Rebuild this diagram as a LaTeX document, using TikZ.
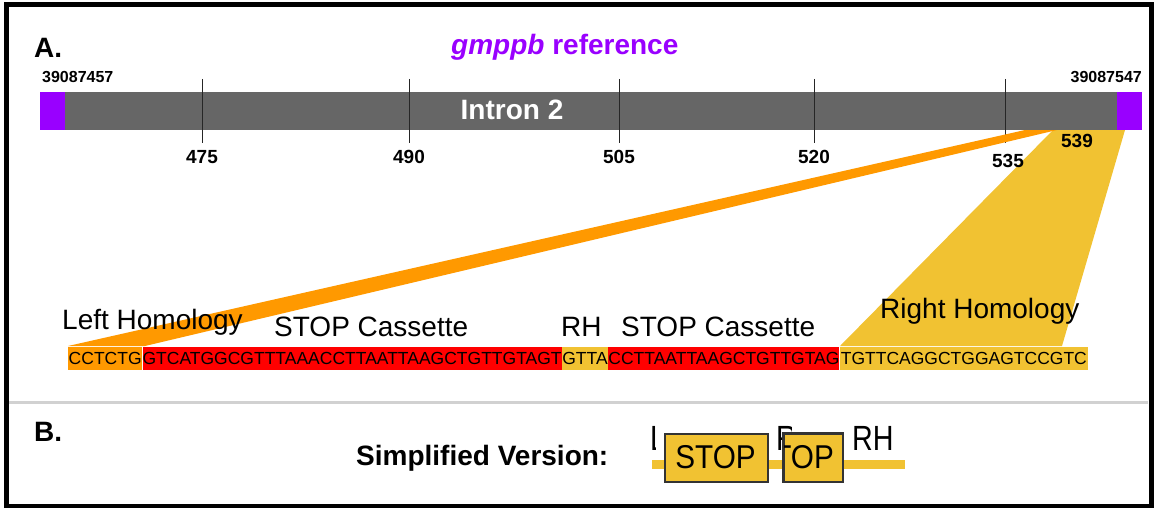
\documentclass[tikz,border=0pt]{standalone}
\usepackage{fontspec}
\setmainfont{Liberation Sans}
\definecolor{gpurple}{HTML}{9900FF}
\definecolor{ggray}{HTML}{666666}
\definecolor{gorange}{HTML}{FF9900}
\definecolor{gyellow}{HTML}{F1C232}
\definecolor{gred}{HTML}{FF0000}
\definecolor{gframe}{HTML}{333333}
\newcommand{\fsz}[1]{\fontsize{#1}{#1}\selectfont}
\newcommand{\narrowtxt}[1]{\scalebox{0.82}[1]{\fsz{35}#1}}
\tikzset{
  lbl/.style={inner sep=0pt, anchor=base west},
  seg/.style={inner xsep=0pt, inner ysep=0pt, text height=13pt, text depth=0pt,
              minimum height=23pt, anchor=west, font=\fsz{17.5}},
  tick/.style={line width=0.9pt, black!85},
  ticklbl/.style={inner sep=0pt, anchor=base, font=\fsz{19}\bfseries},
  simbox/.style={fill=gyellow, draw=gframe, line width=1.5pt}
}
\begin{document}
\begin{tikzpicture}[x=1pt,y=-1pt]
\useasboundingbox (0,0) rectangle (1158,508);
% frame and separator
\draw[line width=5pt] (6.5,4.5) rectangle (1151,506);
\draw[line width=3pt, black!18] (9,402) -- (1148,402);
% labels A, B
\node[lbl, font=\fsz{28}\bfseries] (labA) at (34,58) {A.};
\node[lbl, font=\fsz{28}\bfseries] (labB) at (34,441) {B.};
% title
\node[lbl, font=\fsz{28}\bfseries, text=gpurple] (title) at (451,55) {\textit{gmppb} reference};
% wedges
\fill[gyellow] (840,346) -- (1062,346) -- (1125,130) -- (1053,130) -- cycle;
% bar
\fill[ggray] (40,92) rectangle (1142,130);
\fill[gpurple] (40,92) rectangle (65,130);
\fill[gpurple] (1117,92) rectangle (1142,130);
\node[lbl, font=\fsz{16}\bfseries] (startpos) at (42,83) {39087457};
\node[inner sep=0pt, anchor=base east, font=\fsz{16}\bfseries] (endpos) at (1142,83) {39087547};
\node[inner sep=0pt, anchor=base, font=\fsz{28}\bfseries, text=white] (intron) at (512,120) {Intron 2};
% ticks
\foreach \x in {202,409,619,814,1005}{
  \draw[tick] (\x,79) -- (\x,143);
}
\node[ticklbl] (t475) at (202,163) {475};
\node[ticklbl] (t490) at (409,163) {490};
\node[ticklbl] (t505) at (619,163) {505};
\node[ticklbl] (t520) at (814,163) {520};
\node[ticklbl] (t535) at (1008,167) {535};
\fill[gorange] (68,346) -- (145,346) -- (1057,130) -- (1025,130) -- cycle;
\node[ticklbl] (t539) at (1077,147) {539};
% sequence
\node[seg, fill=gorange, minimum width=74pt] (sLH) at (68,358) {CCTCTG};
\node[seg, fill=gred, minimum width=419pt] (sST1) at (sLH.east) {GTCATGGCGTTTAAACCTTAATTAAGCTGTTGTAGT};
\node[seg, fill=gyellow, minimum width=46pt] (sRH) at (sST1.east) {GTTA};
\node[seg, fill=gred, minimum width=230pt] (sST2) at (sRH.east) {CCTTAATTAAGCTGTTGTAG};
\node[seg, fill=gyellow, minimum width=248pt] (sRHR) at (sST2.east) {TGTTCAGGCTGGAGTCCGTC};
% sequence labels
\node[lbl, font=\fsz{28}] (lLH) at (62,329) {Left Homology};
\node[lbl, font=\fsz{28}] (lST1) at (274,336) {STOP Cassette};
\node[lbl, font=\fsz{28}] (lRH) at (561,336) {RH};
\node[lbl, font=\fsz{28}] (lST2) at (621,336) {STOP Cassette};
\node[lbl, font=\fsz{28}] (lRHR) at (880,318) {Right Homology};
% simplified version
\node[lbl, font=\fsz{28}\bfseries] (simp) at (356,465) {Simplified Version:};
\coordinate (lineL) at (652,464.5);
\coordinate (lineR) at (905,464.5);
\draw[gyellow, line width=9pt] (lineL) -- (lineR);
\begin{scope}
  \clip (640,415) rectangle (655,452);
  \node[lbl] (simLH) at (650,450) {\narrowtxt{LH}};
\end{scope}
\begin{scope}
  \clip (770,415) rectangle (791,452);
  \node[lbl] (simRH1) at (776,450) {\narrowtxt{RH}};
\end{scope}
\node[lbl] (simRH2) at (852,450) {\narrowtxt{RH}};
\node[simbox, minimum width=103pt, minimum height=48pt, inner sep=0pt, anchor=north west] (box1) at (664,433) {};
\node[inner sep=0pt, anchor=base] (box1txt) at (715.5,468) {\scalebox{0.9}[1]{\fsz{33}STOP}};
\node[simbox, minimum width=59pt, minimum height=48pt, inner sep=0pt, anchor=north west] (box2) at (783,433) {};
\begin{scope}
  \clip (783,433) rectangle (842,481);
  \node[inner sep=0pt, anchor=base east] (box2txt) at (834,468) {\scalebox{0.9}[1]{\fsz{33}STOP}};
\end{scope}
\draw[gframe, line width=1.5pt] (box2.north west) rectangle (box2.south east);
\end{tikzpicture}
\end{document}
